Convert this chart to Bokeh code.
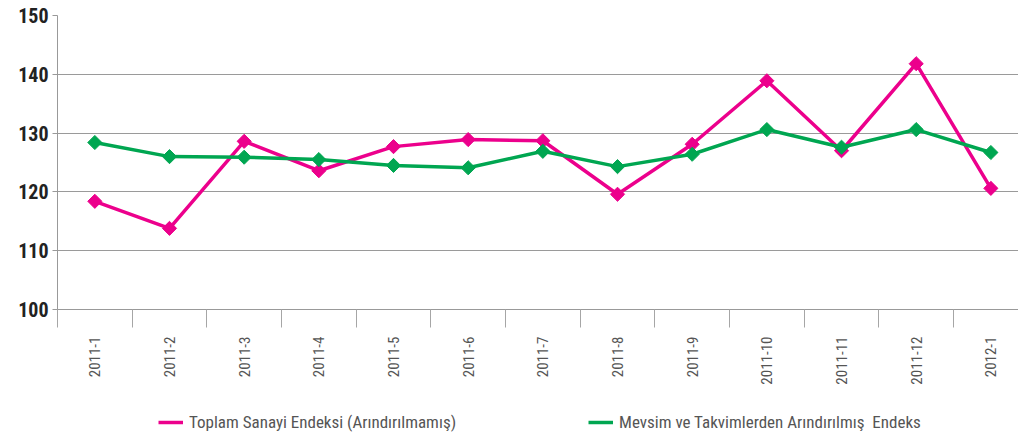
from bokeh.plotting import figure
from bokeh.layouts import column
from bokeh.models import Range1d, FixedTicker, Legend, LegendItem
from bokeh.embed import file_html
from bokeh.resources import INLINE
import math

months = ["2011-1", "2011-2", "2011-3", "2011-4", "2011-5", "2011-6", "2011-7",
          "2011-8", "2011-9", "2011-10", "2011-11", "2011-12", "2012-1"]
toplam = [118.4, 113.8, 128.6, 123.6, 127.7, 128.9, 128.7, 119.6, 128.1, 138.9, 127.0, 141.8, 120.6]
mevsim = [128.4, 126.0, 125.9, 125.5, 124.5, 124.1, 126.9, 124.3, 126.4, 130.6, 127.6, 130.6, 126.7]
y_ticks = [100, 110, 120, 130, 140, 150]
series_names = ["Toplam Sanayi Endeksi (Arındırılmamış)",
                "Mevsim ve Takvimlerden Arındırılmış  Endeks"]

PINK = "#EC008C"
GREEN = "#00A651"
FONT = "'Liberation Sans Narrow', 'Roboto Condensed', 'DejaVu Sans Condensed', sans-serif"

xs = list(range(len(months)))

p = figure(frame_width=961, frame_height=294, output_backend="svg", toolbar_location=None,
           x_range=Range1d(-0.5, 12.37), y_range=Range1d(100, 150),
           min_border_left=57, min_border_right=0, min_border_top=15,
           min_border_bottom=100)
p.outline_line_color = None
p.background_fill_color = "white"
p.border_fill_color = "white"

p.line(xs, toplam, line_color=PINK, line_width=3.5)
p.scatter(xs, toplam, marker="square", size=10, angle=math.pi / 4,
          fill_color=PINK, line_color=PINK)
p.line(xs, mevsim, line_color=GREEN, line_width=3.5)
p.scatter(xs, mevsim, marker="square", size=10, angle=math.pi / 4,
          fill_color=GREEN, line_color=GREEN)

# x axis
xa = p.xaxis[0]
xa.ticker = FixedTicker(ticks=xs, minor_ticks=[i - 0.5 for i in range(len(months) + 1)])
xa.major_label_overrides = {i: m for i, m in enumerate(months)}
xa.major_label_orientation = math.pi / 2
xa.major_tick_in = 0
xa.major_tick_out = 0
xa.minor_tick_in = 0
xa.minor_tick_out = 18
xa.minor_tick_line_color = "#a6a6a6"
xa.axis_line_color = "#999999"
xa.major_label_text_font = FONT
xa.major_label_text_font_size = "15px"
xa.major_label_text_color = "#555555"
xa.major_label_standoff = 9

# y axis
ya = p.yaxis[0]
ya.ticker = FixedTicker(ticks=y_ticks, minor_ticks=[])
ya.major_tick_in = 0
ya.major_tick_out = 5
ya.major_tick_line_color = "#999999"
ya.axis_line_color = "#999999"
ya.major_label_text_font = FONT
ya.major_label_text_font_style = "bold"
ya.major_label_text_font_size = "20px"
ya.major_label_text_color = "#222222"
ya.major_label_standoff = 4

p.xgrid.grid_line_color = None
p.ygrid.ticker = FixedTicker(ticks=y_ticks)
p.ygrid.grid_line_color = "#9a9a9a"
p.ygrid.grid_line_width = 1

# legend figure (series drawn outside its visible range; only the legend shows)
lf = figure(width=1018, height=25, output_backend="svg", toolbar_location=None,
            x_axis_type=None, y_axis_type=None,
            x_range=Range1d(-10, -9), y_range=Range1d(0, 1),
            min_border=0)
lf.outline_line_color = None
lf.xgrid.grid_line_color = None
lf.ygrid.grid_line_color = None
lr1 = lf.line(xs, toplam, line_color=PINK, line_width=3.5)
lr2 = lf.line(xs, mevsim, line_color=GREEN, line_width=3.5)

legend = Legend(items=[
    LegendItem(label=series_names[0], renderers=[lr1]),
    LegendItem(label=series_names[1], renderers=[lr2]),
], orientation="horizontal", location=(101, 2))
legend.border_line_color = None
legend.background_fill_alpha = 0
legend.glyph_width = 25
legend.label_standoff = 6
legend.spacing = 132
legend.padding = 0
legend.margin = 0
legend.label_text_font = FONT
legend.label_text_font_size = "17px"
legend.label_text_color = "#555555"
lf.add_layout(legend, "center")

layout = column(p, lf, spacing=0)
open("out.html", "w").write(file_html(layout, INLINE))
